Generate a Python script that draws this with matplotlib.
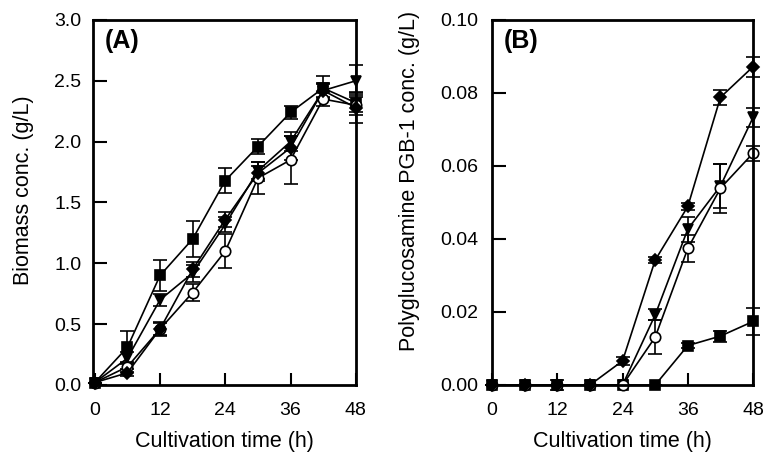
import numpy as np
import matplotlib.pyplot as plt

plt.rcParams['font.family'] = ['Liberation Sans', 'DejaVu Sans']

# cultivation time (h)
time = [0, 6, 12, 18, 24, 30, 36, 42, 48]

# (A) biomass conc. (g/L)
bio_sq = [0.02, 0.31, 0.90, 1.20, 1.68, 1.96, 2.24, 2.44, 2.32]
bio_sq_err = [0.0, 0.13, 0.13, 0.15, 0.10, 0.06, 0.05, 0.10, 0.08]
bio_tri = [0.02, 0.22, 0.70, 0.92, 1.32, 1.76, 2.00, 2.42, 2.50]
bio_tri_err = [0.0, 0.05, 0.05, 0.07, 0.06, 0.07, 0.08, 0.06, 0.13]
bio_cir = [0.02, 0.15, 0.46, 0.76, 1.10, 1.70, 1.85, 2.35, 2.30]
bio_cir_err = [0.0, 0.04, 0.05, 0.07, 0.14, 0.13, 0.20, 0.06, 0.08]
bio_dia = [0.02, 0.10, 0.46, 0.95, 1.36, 1.74, 1.95, 2.42, 2.28]
bio_dia_err = [0.0, 0.03, 0.06, 0.06, 0.06, 0.06, 0.10, 0.05, 0.13]

# (B) polyglucosamine PGB-1 conc. (g/L)
pgb_sq = [0, 0, 0, 0, 0, 0, 0.0108, 0.0134, 0.0174]
pgb_sq_err = [0, 0, 0, 0, 0, 0, 0.0008, 0.0015, 0.0037]
pgb_tri = [0, 0, 0, 0, 0, 0.0192, 0.0427, 0.0545, 0.0733]
pgb_tri_err = [0, 0, 0, 0, 0, 0.0015, 0.0034, 0.0060, 0.0027]
pgb_cir = [0, 0, 0, 0, 0, 0.0131, 0.0374, 0.0539, 0.0635]
pgb_cir_err = [0, 0, 0, 0, 0, 0.0046, 0.0036, 0.0067, 0.0020]
pgb_dia = [0, 0, 0, 0, 0.0066, 0.0342, 0.0489, 0.0788, 0.0872]
pgb_dia_err = [0, 0, 0.0015, 0, 0.0010, 0.0008, 0.0010, 0.0020, 0.0027]

styles = [('s', 'k'), ('v', 'k'), ('o', 'white'), ('D', 'k')]

fig = plt.figure(figsize=(7.7, 4.54), dpi=100)
axA = fig.add_axes([0.121, 0.152, 0.341, 0.804])
axB = fig.add_axes([0.639, 0.152, 0.339, 0.804])


def draw(ax, series, ypad):
    for (y, err), (mk, fc) in zip(series, styles):
        ms = 6.5 if mk == 'D' else 7.5
        ax.errorbar(time, y, yerr=err, fmt='-', color='k', lw=1.2,
                    marker=mk, ms=ms, mfc=fc, mec='k', mew=1.2,
                    capsize=4.7, elinewidth=1.2, capthick=1.2, clip_on=False)
    for s in ax.spines.values():
        s.set_linewidth(2)
    ax.tick_params(axis='x', direction='in', length=9, width=1.5,
                   labelsize=14, top=False, pad=12)
    ax.tick_params(axis='y', direction='in', length=10, width=1.5,
                   labelsize=14, right=False, pad=ypad)
    ax.set_xlim(0, 48)
    ax.set_xticks([0, 12, 24, 36, 48])
    ax.set_xlabel('Cultivation time (h)', fontsize=15.5, labelpad=9)


draw(axA, [(bio_sq, bio_sq_err), (bio_tri, bio_tri_err),
           (bio_cir, bio_cir_err), (bio_dia, bio_dia_err)], 8.5)
axA.set_xlim(-0.3, 48)
axA.set_ylim(0, 3.0)
axA.set_yticks(np.arange(0, 3.01, 0.5))
axA.set_yticklabels(['0.0', '0.5', '1.0', '1.5', '2.0', '2.5', '3.0'])
axA.set_ylabel('Biomass conc. (g/L)', fontsize=15.5)
axA.yaxis.set_label_coords(-0.225, 0.534)
axA.text(0.045, 0.975, '(A)', transform=axA.transAxes, fontsize=18,
         fontweight='bold', va='top')

draw(axB, [(pgb_sq, pgb_sq_err), (pgb_tri, pgb_tri_err),
           (pgb_cir, pgb_cir_err), (pgb_dia, pgb_dia_err)], 10)
axB.set_ylim(0, 0.10)
axB.set_yticks([0, 0.02, 0.04, 0.06, 0.08, 0.10])
axB.set_yticklabels(['0.00', '0.02', '0.04', '0.06', '0.08', '0.10'])
axB.set_ylabel('Polyglucosamine PGB-1 conc. (g/L)', fontsize=15.5)
axB.yaxis.set_label_coords(-0.275, 0.559)
axB.text(0.045, 0.975, '(B)', transform=axB.transAxes, fontsize=18,
         fontweight='bold', va='top')

fig.savefig('out.png', dpi=100)
